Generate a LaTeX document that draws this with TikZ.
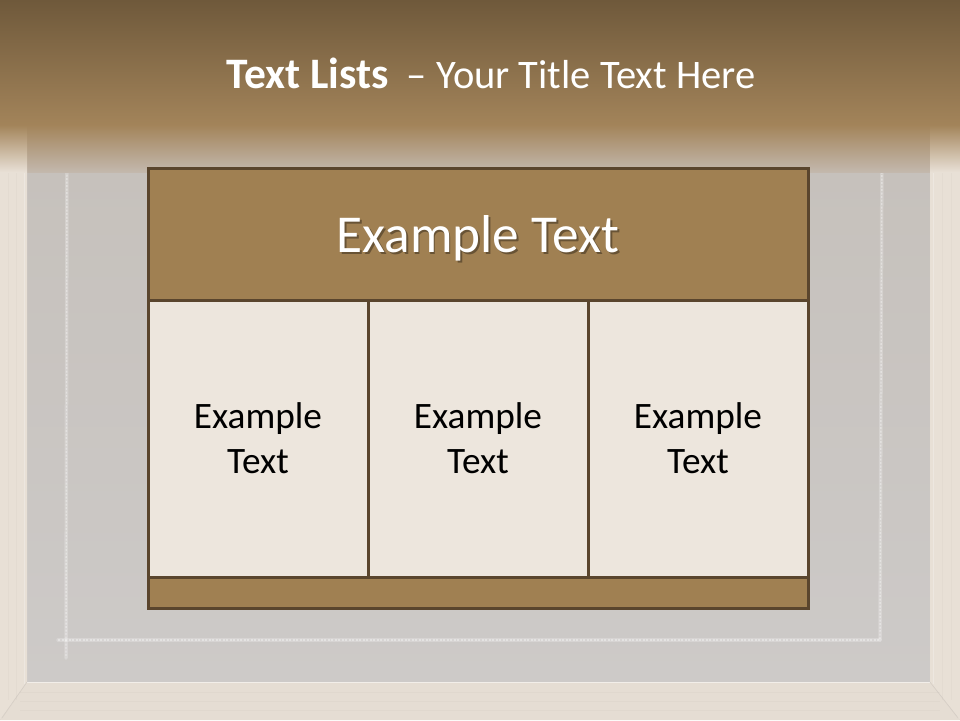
\documentclass[tikz,border=0pt]{standalone}
\usepackage{fontspec}
\setmainfont{Carlito}
\definecolor{bandtop}{HTML}{6F593B}
\definecolor{bandbot}{HTML}{A3845A}
\definecolor{board}{HTML}{CDCAC8}
\definecolor{boardtop}{HTML}{C6C1BC}
\definecolor{fadebot}{HTML}{C3B8AD}
\definecolor{wood}{HTML}{E8E0D6}
\definecolor{woodbot}{HTML}{E5DDD3}
\definecolor{hdrfill}{HTML}{A08052}
\definecolor{edge}{HTML}{5A452D}
\definecolor{cellfill}{HTML}{EDE6DD}
\begin{document}
\begin{tikzpicture}[x=1pt,y=-1pt,
  panel/.style={draw=edge, line width=3pt, inner sep=0pt, outer sep=0pt},
  celltext/.style={align=center, font=\fontsize{37.3}{45}\selectfont, text=black},
  headfont/.style={font=\fontsize{53.3}{64}\selectfont, text depth=0pt, inner sep=0pt},
  chalkwide/.style={white, opacity=0.22, line width=3.5pt, line cap=round},
  chalkdots/.style={white, opacity=0.35, line width=1.4pt, dash pattern=on 2pt off 1.5pt},
  grain/.style={white, opacity=0.25, line width=0.8pt}]
\useasboundingbox (0,0) rectangle (960,720);
% board
\fill[board] (0,0) rectangle (960,720);
\shade[top color=boardtop, bottom color=board] (27,170) rectangle (930,682);
% wooden frame
\fill[wood] (0,120) -- (27,120) -- (27,682) -- (0,720) -- cycle;
\fill[wood] (960,120) -- (930,120) -- (930,682) -- (960,720) -- cycle;
\fill[woodbot] (0,720) -- (27,682) -- (930,682) -- (960,720) -- cycle;
\draw[grain] (24,130) -- (24,684);
\draw[grain] (933,130) -- (933,684);
\draw[white, opacity=0.5, line width=1pt] (27,682) -- (930,682);
\draw[black, opacity=0.05, line width=0.8pt] (27,682) -- (2,718);
\draw[black, opacity=0.05, line width=0.8pt] (930,682) -- (958,718);
\foreach \yy in {692,701,710}{\draw[black, opacity=0.02, line width=0.6pt] (20,\yy) -- (940,\yy);}
\foreach \xx in {8,16}{\draw[black, opacity=0.02, line width=0.6pt] (\xx,130) -- (\xx,700);}
\foreach \xx in {942,951}{\draw[black, opacity=0.02, line width=0.6pt] (\xx,130) -- (\xx,700);}
% chalk marks
\draw[chalkwide] (67,150) -- (66,658);
\draw[chalkwide] (882,140) -- (880,640);
\draw[chalkwide] (58,640) -- (880,640);
\draw[chalkdots] (67,150) -- (66,658);
\draw[chalkdots] (882,140) -- (880,640);
\draw[chalkdots] (58,640) -- (880,640);
% top band
\shade[top color=bandtop, bottom color=bandbot] (0,0) rectangle (960,126);
\shade[top color=bandbot, bottom color=fadebot] (27,125) rectangle (930,172);
\shade[top color=bandbot, bottom color=wood] (0,125) rectangle (27,172);
\shade[top color=bandbot, bottom color=wood] (930,125) rectangle (960,172);
% title
\node[anchor=base, text=white, inner sep=0pt] (title) at (491,88)
  {{\fontsize{43.5}{52}\selectfont\bfseries Text Lists}\hspace{18pt}{\fontsize{40.5}{49}\selectfont – Your Title Text Here}};
% table
\node[panel, fill=cellfill, minimum width=220pt, minimum height=277pt, celltext] (c1) at (258,438.5) {Example\\Text};
\node[panel, fill=cellfill, minimum width=220pt, minimum height=277pt, celltext] (c2) at (478,438.5) {Example\\Text};
\node[panel, fill=cellfill, minimum width=220pt, minimum height=277pt, celltext] (c3) at (698,438.5) {Example\\Text};
\node[panel, fill=hdrfill, minimum width=660pt, minimum height=132pt] (head) at (478,234) {};
\node[panel, fill=hdrfill, minimum width=660pt, minimum height=31pt] (foot) at (478,592.5) {};
\node[headfont, text=black, opacity=0.35] (headshadow) at ([shift={(1.8,1.8)}]head.center) {Example Text};
\node[headfont, text=white] (headtext) at (head.center) {Example Text};
\end{tikzpicture}
\end{document}
